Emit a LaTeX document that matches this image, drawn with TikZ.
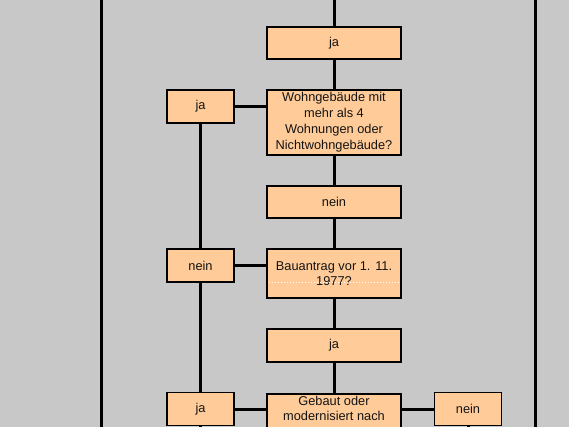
\documentclass[tikz,border=0pt]{standalone}
\usepackage{fontspec}
\setmainfont{Liberation Sans}
\definecolor{bggray}{RGB}{200,200,200}
\definecolor{peach}{RGB}{255,204,153}
\definecolor{txtcol}{RGB}{20,20,20}
\begin{document}
\begin{tikzpicture}[x=1pt,y=-1pt,
  box/.style={draw=black,line width=1.6pt,fill=peach,inner sep=0pt,
    font=\fontsize{12.8}{16}\selectfont,text=txtcol,align=center},
  bigbox/.style={box,minimum width=134pt},
  smallbox/.style={box,minimum width=67pt,minimum height=33pt},
  conn/.style={line width=3pt,black},
  txt/.style={font=\fontsize{12.8}{15.5}\selectfont,text=txtcol,align=center,inner sep=0pt}
]
\useasboundingbox (0,0) rectangle (569,427);
\fill[bggray] (0,0) rectangle (569,427);
% outer vertical lines
\coordinate (lt) at (101,0);
\coordinate (lb) at (101,427);
\coordinate (rt) at (535,0);
\coordinate (rb) at (535,427);
\draw[conn] (lt) -- (lb);
\draw[conn] (rt) -- (rb);
% top entry
\coordinate (top) at (334,0);
% nodes
\node[bigbox,minimum height=32pt] (ja1) at (334,43) {ja};
\node[bigbox,minimum height=65pt] (wohn) at (334,122.5) {Wohngebäude mit\\mehr als 4\\Wohnungen oder\\Nichtwohngebäude?};
\node[bigbox,minimum height=32pt] (nein1) at (334,202) {nein};
\node[bigbox,minimum height=49pt,font=\fontsize{12.8}{15.5}\selectfont] (bau) at (334,273.5) {Bauantrag vor 1. 11.\\1977?};
\node[bigbox,minimum height=33pt] (ja2) at (334,345.5) {ja};
\node[bigbox,minimum height=70pt,anchor=north] (gebaut) at (334,393) {};
\node[txt] (gebauttxt) at (334,408.5) {Gebaut oder\\modernisiert nach};
\node[smallbox] (jaL1) at (200.5,106.5) {ja};
\node[smallbox] (neinL) at (200.5,265.5) {nein};
\node[smallbox] (jaL2) at (200.5,409) {ja};
\node[smallbox] (neinR) at (468,409) {nein};
\coordinate (lbot) at (200.5,440);
\coordinate (rbot) at (468,440);
% dotted artifact line
\draw[white,line width=0.8pt,dash pattern=on 1pt off 2pt] ([xshift=3pt,yshift=-8.5pt]bau.west) -- ([xshift=-3pt,yshift=-8.5pt]bau.east);
% connectors
\draw[conn] (top) -- (ja1.north);
\draw[conn] (ja1.south) -- (wohn.north);
\draw[conn] (wohn.south) -- (nein1.north);
\draw[conn] (nein1.south) -- (bau.north);
\draw[conn] (bau.south) -- (ja2.north);
\draw[conn] (ja2.south) -- (gebaut.north);
\draw[conn] (jaL1.east) -- (jaL1.east -| wohn.west);
\draw[conn] (neinL.east) -- (neinL.east -| bau.west);
\draw[conn] (jaL1.south) -- (neinL.north);
\draw[conn] (neinL.south) -- (jaL2.north);
\draw[conn] (jaL2.south) -- (lbot);
\draw[conn] (jaL2.east) -- (jaL2.east -| gebaut.west);
\draw[conn] (neinR.west) -- (neinR.west -| gebaut.east);
\draw[conn] (neinR.south) -- (rbot);
\end{tikzpicture}
\end{document}
